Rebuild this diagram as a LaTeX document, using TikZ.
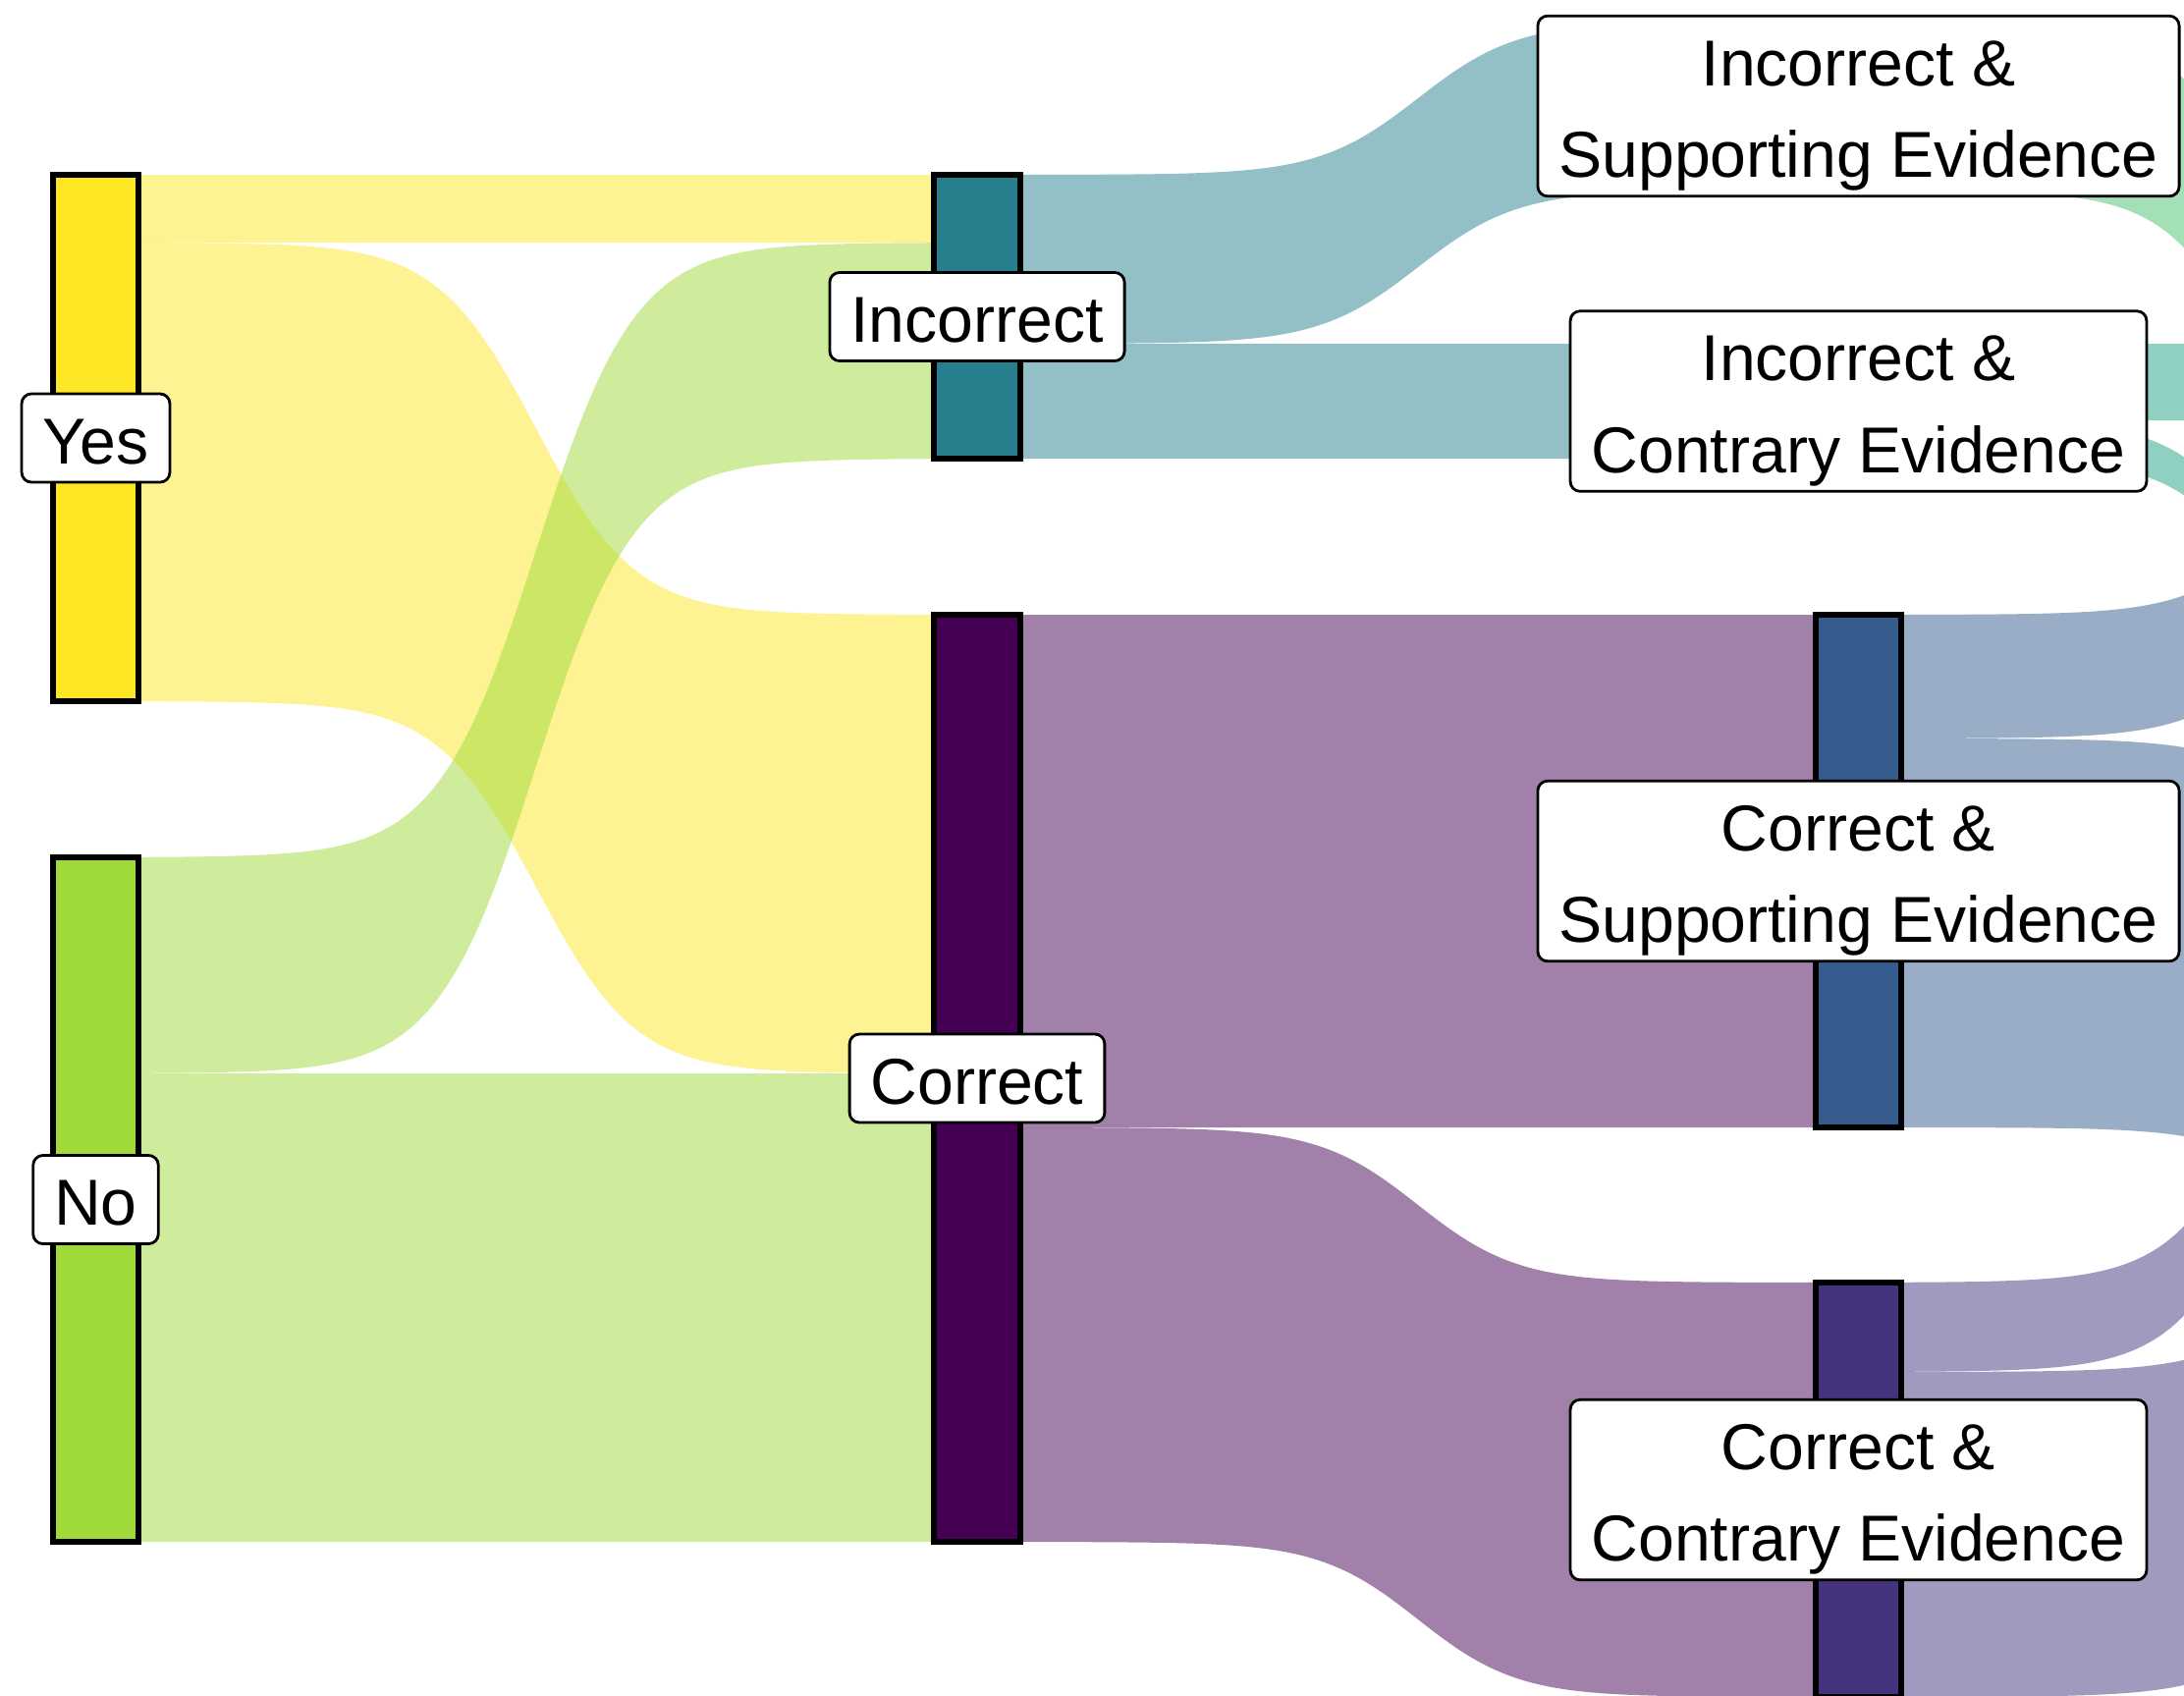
\documentclass[tikz,border=0pt]{standalone}
\usepackage{fontspec}
\setmainfont{Liberation Sans}

% viridis palette
\definecolor{vYes}{HTML}{FDE725}
\definecolor{vNo}{HTML}{9FDA3A}
\definecolor{vInc}{HTML}{277F8E}
\definecolor{vCor}{HTML}{440154}
\definecolor{vIS}{HTML}{4AC16D}
\definecolor{vIC}{HTML}{1FA187}
\definecolor{vCS}{HTML}{365C8D}
\definecolor{vCC}{HTML}{46337E}

% column edges (x, in units of 0.01cm)
\def\cAr{141}
\def\cBl{951}
\def\cBr{1039}
\def\cCl{1849}
\def\cCr{1936}
\def\cDl{2746.5}

% sigmoid ribbon: x0, x1, top0, bottom0, top1, bottom1, colour
\newcommand\sankeyband[7]{%
  \fill[ribbon, #7]
    plot[variable=\xx, domain=#1:#2, samples=140]
      (\xx, {#3 + (#5-#3)/(1+exp(8-16*((\xx-#1)/(#2-#1))))})
    -- plot[variable=\xx, domain=#2:#1, samples=140]
      (\xx, {#4 + (#6-#4)/(1+exp(8-16*((\xx-#1)/(#2-#1))))})
    -- cycle;}

% one label line: fixed height, no depth
\newcommand\lblline[1]{\raisebox{0pt}[0.52cm][0pt]{#1}}

\begin{document}
\begin{tikzpicture}[x=0.01cm, y=-0.01cm]
\tikzset{
  ribbon/.style={opacity=0.5},
  bar/.style={rectangle, draw=black, line width=0.058cm, inner sep=0pt,
    outer sep=0pt, minimum width=0.875cm},
  lbl/.style={rectangle, draw=black, fill=white, line width=0.028cm,
    rounded corners=0.1cm, align=center, inner xsep=0.215cm,
    inner ysep=0.19cm, font=\fontsize{18.8pt}{26.6pt}\selectfont},
}
\useasboundingbox (0,0) rectangle (2224,1726);
\clip (0,0) rectangle (2224,1726);

% first stage flows
\sankeyband{\cAr}{\cBl}{178}{247}{178}{247}{vYes}
\sankeyband{\cAr}{\cBl}{247}{714}{626}{1093}{vYes}
\sankeyband{\cAr}{\cBl}{873}{1093}{247}{467}{vNo}
\sankeyband{\cAr}{\cBl}{1093}{1570}{1093}{1570}{vNo}

% second stage flows
\sankeyband{\cBr}{\cCl}{178}{350}{22}{194}{vInc}
\sankeyband{\cBr}{\cCl}{350}{467}{350}{467}{vInc}
\sankeyband{\cBr}{\cCl}{626}{1148}{626}{1148}{vCor}
\sankeyband{\cBr}{\cCl}{1148}{1570}{1306}{1728}{vCor}

% third stage flows
\sankeyband{\cCr}{\cDl}{22}{194}{672}{844}{vIS}
\sankeyband{\cCr}{\cDl}{350}{428}{350}{428}{vIC}
\sankeyband{\cCr}{\cDl}{428}{467}{843}{882}{vIC}
\sankeyband{\cCr}{\cDl}{626}{752}{406}{532}{vCS}
\sankeyband{\cCr}{\cDl}{752}{1148}{852}{1248}{vCS}
\sankeyband{\cCr}{\cDl}{1306}{1397}{666}{757}{vCC}
\sankeyband{\cCr}{\cDl}{1397}{1728}{1262}{1593}{vCC}

% node bars
\node[bar, fill=vYes, minimum height=5.36cm] (yesbar) at (97.5,446) {};
\node[bar, fill=vNo,  minimum height=6.97cm] (nobar)  at (97.5,1221.5) {};
\node[bar, fill=vInc, minimum height=2.89cm] (incbar) at (995,322.5) {};
\node[bar, fill=vCor, minimum height=9.44cm] (corbar) at (995,1098) {};
\node[bar, fill=vIS,  minimum height=1.72cm] (isbar)  at (1892.5,108) {};
\node[bar, fill=vIC,  minimum height=1.17cm] (icbar)  at (1892.5,408.5) {};
\node[bar, fill=vCS,  minimum height=5.22cm] (csbar)  at (1892.5,887) {};
\node[bar, fill=vCC,  minimum height=4.22cm] (ccbar)  at (1892.5,1517) {};

% labels
\node[lbl] (yeslbl) at (yesbar.center) {\lblline{Yes}};
\node[lbl] (nolbl)  at (nobar.center)  {\lblline{No}};
\node[lbl] (inclbl) at (incbar.center) {\lblline{Incorrect}};
\node[lbl] (corlbl) at (corbar.center) {\lblline{Correct}};
\node[lbl] (islbl)  at (isbar.center)  {\lblline{Incorrect \&}\\\lblline{Supporting Evidence}};
\node[lbl] (iclbl)  at (icbar.center)  {\lblline{Incorrect \&}\\\lblline{Contrary Evidence}};
\node[lbl] (cslbl)  at (csbar.center)  {\lblline{Correct \&}\\\lblline{Supporting Evidence}};
\node[lbl] (cclbl)  at (ccbar.center)  {\lblline{Correct \&}\\\lblline{Contrary Evidence}};
\end{tikzpicture}
\end{document}
